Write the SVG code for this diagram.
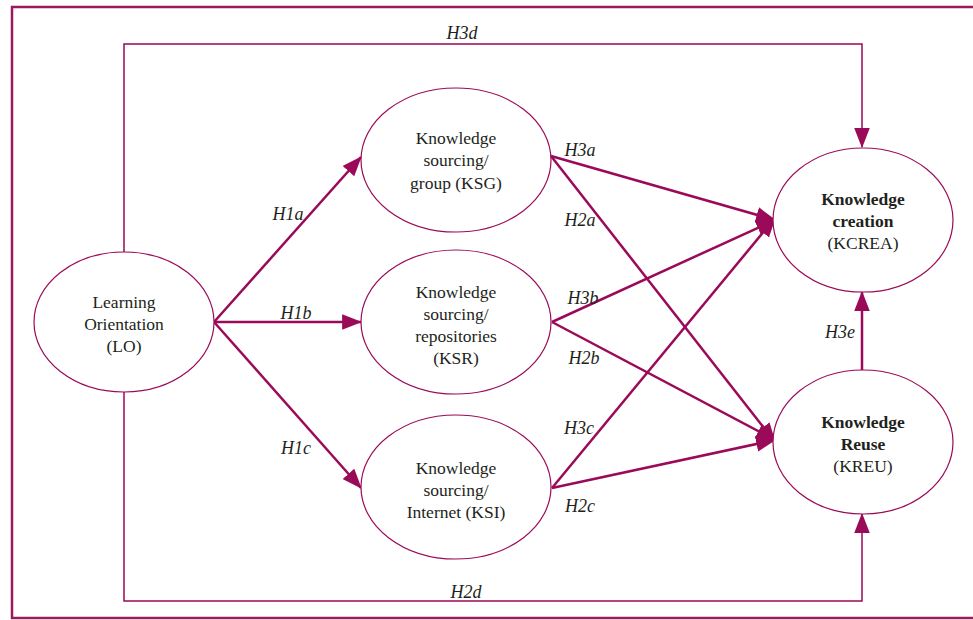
<svg xmlns="http://www.w3.org/2000/svg" width="973" height="620" viewBox="0 0 973 620">
<style>
.node{fill:#fff;stroke:#9b0a59;stroke-width:1.2}
.t{font-family:"Liberation Serif",serif;font-size:17.5px;fill:#231f20;text-anchor:middle}
.b{font-weight:bold}
.lbl{font-family:"Liberation Serif",serif;font-size:18px;font-style:italic;fill:#231f20;text-anchor:middle}
.c{fill:none;stroke:#9b0a59;stroke-width:2.5}
.f{fill:none;stroke:#9b0a59;stroke-width:1.5}
</style>
<defs>
<marker id="ah" markerUnits="userSpaceOnUse" markerWidth="20" markerHeight="16" refX="17" refY="7" orient="auto" viewBox="0 0 18 14">
<path d="M0,0 L18,7 L0,14 Z" fill="#9b0a59"/>
</marker>
</defs>
<rect x="12" y="7" width="975" height="611" fill="none" stroke="#9b1a5c" stroke-width="2.5"/>
<g id="connectors">
<polyline class="f" points="124,252 124,44 862,44 862,147" marker-end="url(#ah)"/>
<polyline class="f" points="124,392 124,601 862,601 862,514" marker-end="url(#ah)"/>
<line class="c" x1="214" y1="322" x2="361" y2="157" marker-end="url(#ah)"/>
<line class="c" x1="214" y1="322" x2="361" y2="322" marker-end="url(#ah)"/>
<line class="c" x1="214" y1="322" x2="361" y2="488" marker-end="url(#ah)"/>
<line class="c" x1="551" y1="156" x2="775" y2="220" marker-end="url(#ah)"/>
<line class="c" x1="551" y1="156" x2="775" y2="442" marker-end="url(#ah)"/>
<line class="c" x1="552" y1="322" x2="775" y2="220" marker-end="url(#ah)"/>
<line class="c" x1="552" y1="322" x2="775" y2="440" marker-end="url(#ah)"/>
<line class="c" x1="552" y1="488" x2="775" y2="218" marker-end="url(#ah)"/>
<line class="c" x1="552" y1="488" x2="775" y2="440" marker-end="url(#ah)"/>
<line class="c" x1="862" y1="370" x2="862" y2="292" marker-end="url(#ah)"/>
<text class="lbl" x="462" y="39">H3d</text>
<text class="lbl" x="466" y="598">H2d</text>
<text class="lbl" x="288" y="220">H1a</text>
<text class="lbl" x="296" y="319">H1b</text>
<text class="lbl" x="296" y="454">H1c</text>
<text class="lbl" x="580" y="156">H3a</text>
<text class="lbl" x="580" y="226">H2a</text>
<text class="lbl" x="583" y="304">H3b</text>
<text class="lbl" x="584" y="364">H2b</text>
<text class="lbl" x="579" y="434">H3c</text>
<text class="lbl" x="580" y="512">H2c</text>
<text class="lbl" x="840" y="338">H3e</text>
</g>
<g id="LO">
<ellipse class="node" cx="124" cy="322" rx="90" ry="70"/>
<text class="t" x="124" y="308">Learning</text>
<text class="t" x="124" y="330">Orientation</text>
<text class="t" x="124" y="352">(LO)</text>
</g>
<g id="KSG">
<ellipse class="node" cx="456" cy="160" rx="95" ry="72"/>
<text class="t" x="456" y="144">Knowledge</text>
<text class="t" x="456" y="166">sourcing/</text>
<text class="t" x="456" y="189">group (KSG)</text>
</g>
<g id="KSR">
<ellipse class="node" cx="456" cy="322" rx="95" ry="72"/>
<text class="t" x="456" y="298">Knowledge</text>
<text class="t" x="456" y="320">sourcing/</text>
<text class="t" x="456" y="342">repositories</text>
<text class="t" x="456" y="364">(KSR)</text>
</g>
<g id="KSI">
<ellipse class="node" cx="456" cy="487" rx="95" ry="72"/>
<text class="t" x="456" y="474">Knowledge</text>
<text class="t" x="456" y="496">sourcing/</text>
<text class="t" x="456" y="518">Internet (KSI)</text>
</g>
<g id="KCREA">
<ellipse class="node" cx="863" cy="220" rx="90" ry="72"/>
<text class="t b" x="863" y="205">Knowledge</text>
<text class="t b" x="863" y="227">creation</text>
<text class="t" x="863" y="249">(KCREA)</text>
</g>
<g id="KREU">
<ellipse class="node" cx="863" cy="442" rx="90" ry="72"/>
<text class="t b" x="863" y="428">Knowledge</text>
<text class="t b" x="863" y="450">Reuse</text>
<text class="t" x="863" y="472">(KREU)</text>
</g>
</svg>
